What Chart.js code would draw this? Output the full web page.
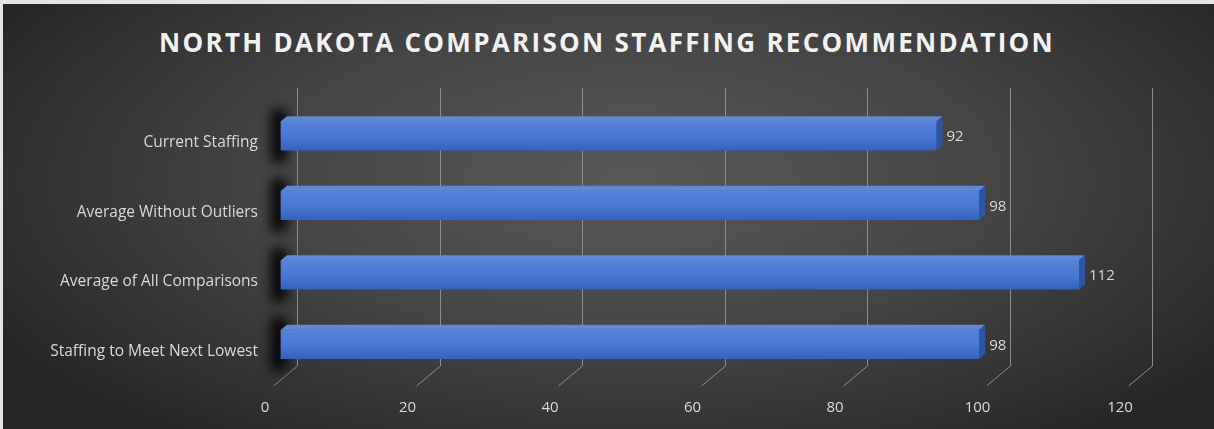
<!DOCTYPE html>
<html>
<head>
<meta charset="utf-8">
<script src="https://cdn.jsdelivr.net/npm/chart.js@4.4.1/dist/chart.umd.min.js"></script>
<style>
  html, body { margin: 0; padding: 0; background: #fff; }
  #wrap {
    position: relative; width: 1214px; height: 429px; overflow: hidden;
    background: radial-gradient(ellipse 60% 75% at 52% 42%, #585858 0%, #474747 45%, #303030 85%, #262626 100%);
  }
  #edgeTop { position: absolute; left: 0; top: 0; width: 1214px; height: 4px; background: #e4e4e4; }
  #edgeLeft { position: absolute; left: 0; top: 0; width: 3px; height: 429px; background: #e4e4e4; }
  #title {
    position: absolute; left: 0; top: 27px; width: 1214px; text-align: center;
    font-family: "Open Sans", sans-serif; font-weight: 700; font-size: 26px;
    letter-spacing: 2.3px; color: #f2f2f2; line-height: 30px;
  }
  canvas { position: absolute; left: 0; top: 0; }
</style>
</head>
<body>
<div id="wrap">
  <div id="edgeTop"></div>
  <div id="edgeLeft"></div>
  <div id="title">NORTH DAKOTA COMPARISON STAFFING RECOMMENDATION</div>
  <canvas id="myChart" width="1214" height="429"></canvas>
</div>
<script>
'use strict';

var categories = ['Current Staffing', 'Average Without Outliers', 'Average of All Comparisons', 'Staffing to Meet Next Lowest'];
var staffing = [92, 98, 112, 98];
var tick_values = [0, 20, 40, 60, 80, 100, 120];

// 3d look: depth of bar from front floor and of back wall
var BAR_DX = 8, BAR_DY = -7;
var WALL_DX = 24, WALL_DY = -20;
var BEVEL = 6;
var BAR_H = 29;

var wallPlugin = {
    id: 'wall',
    beforeDatasetsDraw: function(chart){
        var ctx = chart.ctx, area = chart.chartArea, xs = chart.scales.x;
        ctx.save();
        ctx.strokeStyle = '#8c8c8c';
        ctx.lineWidth = 1;
        tick_values.forEach(function(v){
            var xf = Math.round(xs.getPixelForValue(v)) + 0.5;
            ctx.beginPath();
            ctx.moveTo(xf + WALL_DX, area.top + WALL_DY);
            ctx.lineTo(xf + WALL_DX, area.bottom + WALL_DY);
            ctx.lineTo(xf, area.bottom);
            ctx.stroke();
        });
        // shadows of bar ends on left wall
        var meta = chart.getDatasetMeta(0);
        meta.data.forEach(function(bar){
            var p = bar.getProps(['x', 'y', 'base', 'height'], true);
            ctx.save();
            ctx.filter = 'blur(6px)';
            ctx.fillStyle = 'rgba(0,0,0,0.9)';
            ctx.fillRect(p.base + BAR_DX - 10, p.y + BAR_DY - p.height / 2 - 12, 16, p.height + 24);
            ctx.restore();
        });
        ctx.restore();
        ctx.save();
        ctx.translate(BAR_DX, BAR_DY);
    },
    afterDatasetsDraw: function(chart){
        var ctx = chart.ctx;
        ctx.restore();
        var meta = chart.getDatasetMeta(0);
        ctx.save();
        meta.data.forEach(function(bar, i){
            var p = bar.getProps(['x', 'y', 'base', 'height'], true);
            var x0 = p.base + BAR_DX, x1 = p.x + BAR_DX;
            var top = p.y + BAR_DY - p.height / 2, bot = p.y + BAR_DY + p.height / 2;
            // top face
            ctx.fillStyle = '#5f88d6';
            ctx.beginPath();
            ctx.moveTo(x0, top);
            ctx.lineTo(x0 + BEVEL, top - BEVEL + 1);
            ctx.lineTo(x1 + BEVEL, top - BEVEL + 1);
            ctx.lineTo(x1, top);
            ctx.closePath();
            ctx.fill();
            // end face
            ctx.fillStyle = '#2c55a8';
            ctx.beginPath();
            ctx.moveTo(x1, top);
            ctx.lineTo(x1 + BEVEL, top - BEVEL + 1);
            ctx.lineTo(x1 + BEVEL, bot - BEVEL + 1);
            ctx.lineTo(x1, bot);
            ctx.closePath();
            ctx.fill();
            // value label
            ctx.fillStyle = '#d9d9d9';
            ctx.font = '15px "Open Sans", sans-serif';
            ctx.textAlign = 'left';
            ctx.textBaseline = 'middle';
            ctx.fillText(String(staffing[i]), x1 + BEVEL + 4, p.y + BAR_DY + 1);
        });
        ctx.restore();
    }
};

var ctx = document.getElementById('myChart');
var grad = ctx.getContext('2d');
var myChart = new Chart(ctx, {
    type: 'bar',
    data: {
        labels: categories,
        datasets: [{
            data: staffing,
            barThickness: BAR_H,
            borderWidth: 0,
            backgroundColor: function(c){
                var ys = c.chart.scales.y;
                if (!ys || c.dataIndex === undefined) return '#4472c4';
                var y = ys.getPixelForValue(c.dataIndex);
                if (!isFinite(y)) return '#4472c4';
                var g = grad.createLinearGradient(0, y - BAR_H / 2, 0, y + BAR_H / 2);
                g.addColorStop(0, '#5783d8');
                g.addColorStop(0.5, '#4a78d2');
                g.addColorStop(1, '#3562c0');
                return g;
            },
            clip: false
        }]
    },
    options: {
        indexAxis: 'y',
        responsive: false,
        animation: false,
        devicePixelRatio: 1,
        layout: { padding: { top: 108, right: 86, bottom: 0, left: 0 } },
        plugins: {
            legend: { display: false },
            title: { display: false },
            tooltip: { enabled: false }
        },
        scales: {
            x: {
                min: 0,
                max: 120,
                afterFit: function(s){ s.height = 43; },
                afterBuildTicks: function(s){ s.ticks = tick_values.map(function(v){ return { value: v }; }); },
                grid: { display: false, drawTicks: false },
                border: { display: false },
                ticks: {
                    padding: 13,
                    labelOffset: -8,
                    color: '#d9d9d9',
                    font: { family: '"Open Sans", sans-serif', size: 15 },
                    maxRotation: 0
                }
            },
            y: {
                afterFit: function(s){ s.width = 273; },
                grid: { display: false, drawTicks: false },
                border: { display: false },
                ticks: {
                    padding: 15,
                    color: '#d9d9d9',
                    font: { family: '"Open Sans", sans-serif', size: 15.5 }
                }
            }
        }
    },
    plugins: [wallPlugin]
});
</script>
</body>
</html>
